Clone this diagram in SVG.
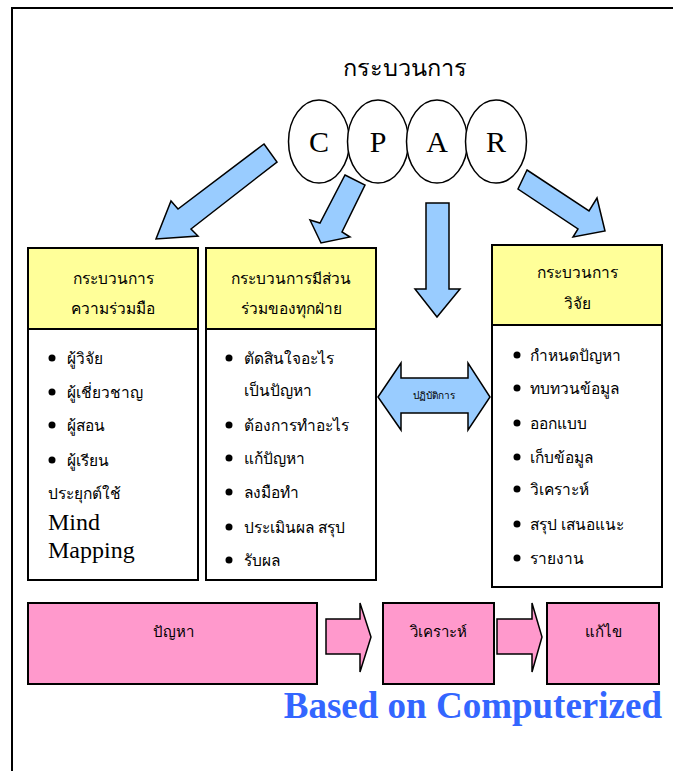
<svg xmlns="http://www.w3.org/2000/svg" width="673" height="771" viewBox="0 0 673 771">
<style>
.th{font-family:"Liberation Serif","DejaVu Serif",serif;fill:#000}
.lat{font-family:"Liberation Serif","Times New Roman",serif;fill:#000}
.arr{fill:#99CCFF;stroke:#000;stroke-width:1.5;stroke-linejoin:miter}
.yel{fill:#FFFF99;stroke:#000;stroke-width:2}
.wht{fill:#FFFFFF;stroke:#000;stroke-width:2}
.pnk{fill:#FF99CC;stroke:#000;stroke-width:2}
.ell{fill:#FFFFFF;stroke:#000;stroke-width:1.5}
.b{font-size:15.5px}
.h{font-size:15.5px;text-anchor:middle}
</style>
<rect x="12" y="8" width="700" height="800" fill="#FFFFFF" stroke="#000" stroke-width="2"/>

<g id="title"><text class="th" x="405" y="76" font-size="23.5" text-anchor="middle">กระบวนการ</text></g>

<g id="cpar">
<ellipse class="ell" cx="319" cy="141.5" rx="30.5" ry="41.5"/>
<ellipse class="ell" cx="378" cy="141.5" rx="30.5" ry="41.5"/>
<ellipse class="ell" cx="437" cy="141.5" rx="30.5" ry="41.5"/>
<ellipse class="ell" cx="496" cy="141.5" rx="30.5" ry="41.5"/>
<text class="lat" x="319" y="152" font-size="30" text-anchor="middle">C</text>
<text class="lat" x="378" y="152" font-size="30" text-anchor="middle">P</text>
<text class="lat" x="437" y="152" font-size="30" text-anchor="middle">A</text>
<text class="lat" x="496" y="152" font-size="30" text-anchor="middle">R</text>
</g>

<g id="connectors">
<polygon class="arr" points="264,144 277,162 191,229 198,236 156,239 171,201 178,209"/>
<polygon class="arr" points="345,175 365,185 342,232 350,237 321,243 310,220 320,223"/>
<polygon class="arr" points="426,203 449,203 449,289 460,289 437,317 415,289 426,289"/>
<polygon class="arr" points="527,170 589,211 597,198 605,231 573,237 578,229 518,189"/>
<polygon class="pnk" style="stroke-width:1.5" points="326,619 360,619 360,603 371,637 360,672 360,654 326,654"/>
<polygon class="pnk" style="stroke-width:1.5" points="497,619 532,619 532,603 542,637 532,672 532,654 497,654"/>
</g>

<g id="practice">
<polygon class="arr" points="378,397 401,363 401,378 468,378 468,363 490,397 468,430 468,413 401,413 401,430"/>
<text class="th" x="434" y="399" font-size="10" text-anchor="middle">ปฏิบัติการ</text>
</g>

<g id="collab">
<rect class="yel" x="28" y="248" width="170" height="81"/>
<rect class="wht" x="28" y="329" width="170" height="251"/>
<text class="th h" x="113" y="284">กระบวนการ</text>
<text class="th h" x="113" y="314">ความร่วมมือ</text>
<g class="th b">
<circle cx="52" cy="358" r="3.5"/><text x="67" y="364">ผู้วิจัย</text>
<circle cx="52" cy="392" r="3.5"/><text x="67" y="398">ผู้เชี่ยวชาญ</text>
<circle cx="52" cy="425" r="3.5"/><text x="67" y="431">ผู้สอน</text>
<circle cx="52" cy="460" r="3.5"/><text x="67" y="466">ผู้เรียน</text>
<text x="48" y="499">ประยุกต์ใช้</text>
</g>
<text class="lat" x="48" y="530" font-size="24">Mind</text>
<text class="lat" x="48" y="558" font-size="24">Mapping</text>
</g>

<g id="participation">
<rect class="yel" x="206" y="248" width="170" height="81"/>
<rect class="wht" x="206" y="329" width="170" height="251"/>
<text class="th h" x="291" y="284">กระบวนการมีส่วน</text>
<text class="th h" x="291" y="314">ร่วมของทุกฝ่าย</text>
<g class="th b">
<circle cx="229" cy="358" r="3.5"/><text x="244" y="364">ตัดสินใจอะไร</text>
<text x="244" y="396">เป็นปัญหา</text>
<circle cx="229" cy="425" r="3.5"/><text x="244" y="431">ต้องการทำอะไร</text>
<circle cx="229" cy="458" r="3.5"/><text x="244" y="464">แก้ปัญหา</text>
<circle cx="229" cy="492" r="3.5"/><text x="244" y="498">ลงมือทำ</text>
<circle cx="229" cy="527" r="3.5"/><text x="244" y="533">ประเมินผล สรุป</text>
<circle cx="229" cy="560" r="3.5"/><text x="244" y="566">รับผล</text>
</g>
</g>

<g id="research">
<rect class="yel" x="492" y="245" width="170" height="80"/>
<rect class="wht" x="492" y="325" width="170" height="262"/>
<text class="th h" x="577" y="278">กระบวนการ</text>
<text class="th h" x="577" y="309">วิจัย</text>
<g class="th b">
<circle cx="517" cy="355" r="3.5"/><text x="530" y="361">กำหนดปัญหา</text>
<circle cx="517" cy="388" r="3.5"/><text x="530" y="394">ทบทวนข้อมูล</text>
<circle cx="517" cy="423" r="3.5"/><text x="530" y="429">ออกแบบ</text>
<circle cx="517" cy="457" r="3.5"/><text x="530" y="463">เก็บข้อมูล</text>
<circle cx="517" cy="489" r="3.5"/><text x="530" y="495">วิเคราะห์</text>
<circle cx="517" cy="524" r="3.5"/><text x="530" y="530">สรุป เสนอแนะ</text>
<circle cx="517" cy="558" r="3.5"/><text x="530" y="564">รายงาน</text>
</g>
</g>

<g id="problem">
<rect class="pnk" x="28" y="603" width="289" height="81"/>
<text class="th h" x="173" y="637" style="font-size:15px">ปัญหา</text>
</g>
<g id="analyze">
<rect class="pnk" x="383" y="603" width="111" height="81"/>
<text class="th h" x="438" y="637" style="font-size:15px">วิเคราะห์</text>
</g>
<g id="solve">
<rect class="pnk" x="547" y="603" width="112" height="81"/>
<text class="th h" x="603" y="637" style="font-size:15px">แก้ไข</text>
</g>

<g id="footer">
<text x="662" y="718" font-family="Liberation Serif, serif" font-weight="bold" font-size="37" fill="#3366FF" text-anchor="end">Based on Computerized</text>
</g>
</svg>
